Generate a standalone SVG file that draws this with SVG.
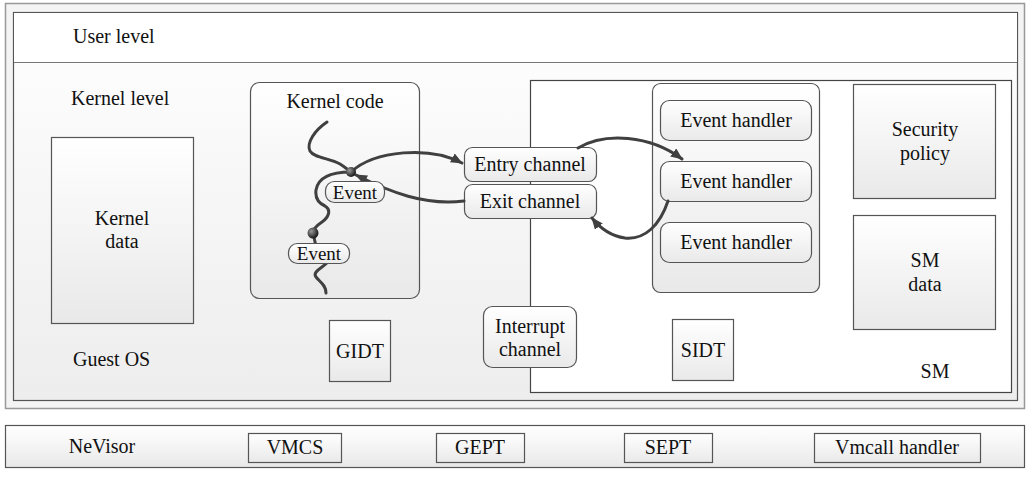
<svg xmlns="http://www.w3.org/2000/svg" width="1030" height="477" viewBox="0 0 1030 477" font-family="'Liberation Serif', 'DejaVu Serif', serif">
<defs>
<linearGradient id="g" x1="0" y1="0" x2="0" y2="1"><stop offset="0" stop-color="#ffffff"/><stop offset="1" stop-color="#e9e9e9"/></linearGradient>
<linearGradient id="gk" x1="0" y1="0" x2="0" y2="1"><stop offset="0" stop-color="#ffffff"/><stop offset="1" stop-color="#ededed"/></linearGradient>
<radialGradient id="dot" cx="0.35" cy="0.35" r="0.7"><stop offset="0" stop-color="#999"/><stop offset="1" stop-color="#111"/></radialGradient>
<marker id="ah" markerWidth="12" markerHeight="10" refX="11" refY="5" orient="auto" markerUnits="userSpaceOnUse"><path d="M0,0 L12,5 L0,10 z" fill="#404040"/></marker>
<style>
text{font-family:'Liberation Serif','DejaVu Serif',serif;font-size:20px;fill:#111;text-anchor:middle}
.l{text-anchor:start}
.box{fill:url(#g);stroke:#555;stroke-width:1.2}
.rbox{fill:url(#g);stroke:#555;stroke-width:1.2}
.ln{fill:none;stroke:#404040;stroke-width:3;stroke-linecap:round}
</style>
</defs>
<rect x="0" y="0" width="1030" height="477" fill="#fff"/>
<g id="frame">
<rect x="5.5" y="3.5" width="1019" height="405" fill="#f4f4f4" stroke="#999" stroke-width="1.5"/>
<rect x="13.5" y="12.5" width="1004" height="388" fill="url(#gk)" stroke="#555" stroke-width="1.2"/>
<rect x="14" y="13" width="1003" height="49" fill="#fff"/>
<line x1="14" y1="62.5" x2="1017" y2="62.5" stroke="#777" stroke-width="1"/>
<text class="l" x="73" y="43">User level</text>
<text class="l" x="71" y="105">Kernel level</text>
<text class="l" x="73" y="366">Guest OS</text>
</g>
<g id="sm">
<rect x="530.5" y="80.5" width="481" height="312" fill="#fff" stroke="#444" stroke-width="1.2"/>
<text x="935" y="378">SM</text>
</g>
<g id="kernel-data"><rect class="box" x="51.5" y="137.5" width="142" height="186"/><text x="122" y="225">Kernel</text><text x="122" y="248">data</text></g>
<g id="kernel-code">
<rect class="rbox" x="250.5" y="82.5" width="169" height="216" rx="9"/>
<text x="335" y="108">Kernel code</text>
<path class="ln" d="M327,122 C315,130 306,143 310,151 C314,158 330,158 340,164 C345,167 348,170 351,172"/>
<path class="ln" d="M351,172 C330,172 318,178 316,190 C315,198 318,203 325,206 C332,210 328,218 322,222 C316,226 313,230 313,233 L318,255"/>
<path class="ln" d="M328,262 C322,268 312,272 316,277 C320,282 326,285 326,293"/>
</g>
<g id="gidt"><rect class="box" x="329.5" y="320.5" width="61" height="61"/><text x="360" y="358">GIDT</text></g>
<g id="event-handlers">
<rect class="rbox" x="652.5" y="83.5" width="167" height="209" rx="8"/>
</g>
<g id="eh1"><rect class="rbox" x="660.5" y="100.5" width="151" height="40" rx="9"/><text x="736" y="127">Event handler</text></g>
<g id="eh2"><rect class="rbox" x="660.5" y="161.5" width="151" height="40" rx="9"/><text x="736" y="188">Event handler</text></g>
<g id="eh3"><rect class="rbox" x="660.5" y="222.5" width="151" height="40" rx="9"/><text x="736" y="249">Event handler</text></g>
<g id="security-policy"><rect class="box" x="853.5" y="84.5" width="142" height="114"/><text x="925" y="136">Security</text><text x="925" y="160">policy</text></g>
<g id="sm-data"><rect class="box" x="853.5" y="215.5" width="142" height="114"/><text x="925" y="267">SM</text><text x="925" y="291">data</text></g>
<g id="sidt"><rect class="box" x="672.5" y="319.5" width="61" height="61"/><text x="703" y="357">SIDT</text></g>
<g id="interrupt-channel"><rect class="rbox" x="483.5" y="306.5" width="93" height="61" rx="9"/><text x="530" y="333">Interrupt</text><text x="530" y="356">channel</text></g>
<g id="entry-channel"><rect class="rbox" x="464.5" y="147.5" width="132" height="34" rx="8"/><text x="530" y="171">Entry channel</text></g>
<g id="exit-channel"><rect class="rbox" x="464.5" y="184.5" width="132" height="34" rx="8"/><text x="530" y="208">Exit channel</text></g>
<g id="connectors">
<path class="ln" d="M351,172 C375,150 430,146 462,163" marker-end="url(#ah)"/>
<path class="ln" d="M464,201 C425,206 390,192 356,175" marker-end="url(#ah)"/>
<path class="ln" d="M578,148 C605,132 650,135 682,159" marker-end="url(#ah)"/>
<path class="ln" d="M668,201 C660,225 645,240 625,238 C610,236 600,228 592,218" marker-end="url(#ah)"/>
</g>
<g id="event1"><rect class="rbox" x="325.5" y="181.5" width="59" height="21" rx="9"/><text x="355" y="199" style="font-size:19px">Event</text></g>
<g id="event2"><rect class="rbox" x="288.5" y="243.5" width="61" height="20" rx="9"/><text x="319" y="260" style="font-size:19px">Event</text></g>
<g id="dots"><circle cx="351" cy="172" r="5" fill="url(#dot)"/><circle cx="313" cy="233" r="5.5" fill="url(#dot)"/></g>
<g id="nevisor">
<rect x="5.5" y="425.5" width="1019" height="42" fill="url(#g)" stroke="#555" stroke-width="1.2"/>
<text x="102" y="453">NeVisor</text>
</g>
<g id="vmcs"><rect class="box" x="248.5" y="433.5" width="93" height="29"/><text x="295" y="454">VMCS</text></g>
<g id="gept"><rect class="box" x="436.5" y="433.5" width="88" height="29"/><text x="480" y="454">GEPT</text></g>
<g id="sept"><rect class="box" x="624.5" y="433.5" width="88" height="29"/><text x="668" y="454">SEPT</text></g>
<g id="vmcall"><rect class="box" x="814.5" y="433.5" width="166" height="29"/><text x="897" y="454">Vmcall handler</text></g>
</svg>
